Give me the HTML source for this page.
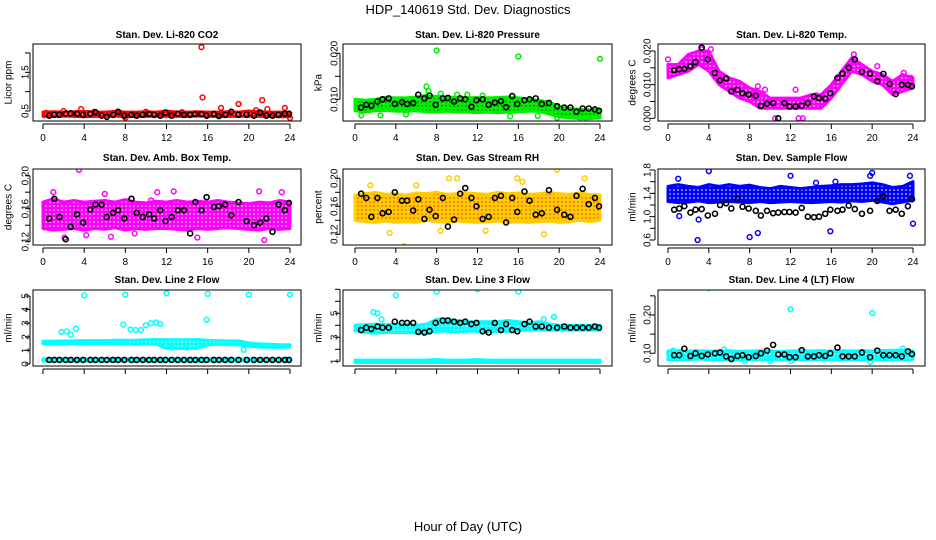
<!DOCTYPE html>
<html><head><meta charset="utf-8"><style>
body{margin:0;background:#fff;}
svg{display:block;font-family:"Liberation Sans",sans-serif;}
</style></head><body>
<svg id="c" width="936" height="540" viewBox="0 0 936 540" xmlns="http://www.w3.org/2000/svg">
<text x="468" y="14" text-anchor="middle" font-size="13">HDP_140619  Std. Dev. Diagnostics</text>
<text x="468" y="531" text-anchor="middle" font-size="13">Hour of Day (UTC)</text>
</svg>
<script>
const bandHours=[0,1,2,3,4,5,6,7,8,9,10,11,12,13,14,15,16,17,18,19,20,21,22,23,24];
const blackHours=[0.6,1.1,1.6,2.2,2.7,3.3,3.9,4.6,5.1,5.7,6.2,6.8,7.3,7.9,8.6,9.1,9.7,10.3,10.8,11.4,11.9,12.5,13.1,13.7,14.3,14.8,15.4,15.9,16.6,17.1,17.7,18.3,19.0,19.8,20.5,21.1,21.7,22.3,22.9,23.5,23.9];
const xTicks=[0,4,8,12,16,20,24];

// Panel 1 CO2
const co2Lo=[0.36,0.36,0.37,0.36,0.35,0.36,0.36,0.37,0.35,0.36,0.36,0.37,0.36,0.36,0.36,0.37,0.36,0.36,0.36,0.36,0.37,0.36,0.36,0.35,0.35];
const co2Hi=[0.47,0.48,0.47,0.48,0.49,0.47,0.47,0.49,0.47,0.47,0.48,0.47,0.5,0.47,0.47,0.48,0.47,0.47,0.48,0.47,0.5,0.48,0.47,0.47,0.46];
const co2PtX=[3.7,15.4,15.5,17.3,19.0,21.3,21.8,23.5,24.0,8.0,0.3,2.0,5.0,10.0,13.5,20.7];
const co2PtY=[0.55,2.15,0.85,0.58,0.68,0.78,0.55,0.58,0.32,0.33,0.45,0.5,0.48,0.48,0.47,0.52];
const co2Black=[0.38,0.4,0.4,0.43,0.44,0.43,0.4,0.43,0.47,0.38,0.35,0.4,0.48,0.38,0.4,0.38,0.4,0.42,0.4,0.38,0.46,0.38,0.43,0.4,0.4,0.42,0.42,0.38,0.42,0.37,0.4,0.48,0.4,0.4,0.38,0.46,0.38,0.38,0.4,0.43,0.43];
// Panel 2 Pressure
const presLo=[0.0075,0.0072,0.0075,0.0076,0.0074,0.0074,0.0075,0.0073,0.0072,0.0074,0.0072,0.0072,0.0071,0.0072,0.0071,0.0072,0.0073,0.0074,0.0074,0.0068,0.0062,0.0060,0.0058,0.0058,0.0060];
const presHi=[0.0100,0.0098,0.0100,0.0104,0.0103,0.0103,0.0105,0.0108,0.0106,0.0105,0.0104,0.0103,0.0104,0.0103,0.0104,0.0105,0.0103,0.0100,0.0098,0.0094,0.0085,0.0080,0.0078,0.0077,0.0078];
const presPtX=[8,16,24,7.0,7.2,8.4,10,11,15.2,17.9,0.6,2.5,5,12.5,19.8,22.3];
const presPtY=[0.0206,0.0193,0.0188,0.0128,0.0118,0.0112,0.0110,0.0110,0.0063,0.0064,0.0065,0.0065,0.0067,0.0108,0.0060,0.0055];
const presBlack=[0.0082,0.0088,0.0086,0.0095,0.0100,0.0102,0.0090,0.0094,0.0090,0.0092,0.0110,0.0102,0.0108,0.0088,0.0102,0.0103,0.0095,0.0102,0.0100,0.0084,0.0098,0.0100,0.0088,0.0093,0.0096,0.0083,0.0107,0.0090,0.0098,0.0100,0.0102,0.0090,0.0092,0.0085,0.0082,0.0082,0.0073,0.0080,0.0080,0.0078,0.0075];
// Panel 3 Temp
const tempLo=[0.012,0.013,0.014,0.016,0.014,0.010,0.008,0.006,0.005,0.003,0.003,0.003,0.003,0.003,0.003,0.003,0.006,0.010,0.014,0.013,0.011,0.010,0.007,0.008,0.009];
const tempHi=[0.016,0.016,0.019,0.020,0.020,0.014,0.012,0.011,0.009,0.008,0.006,0.006,0.006,0.006,0.007,0.007,0.010,0.014,0.018,0.016,0.014,0.013,0.011,0.013,0.012];
const tempPtX=[0,3.3,4.2,10.5,12.8,13.2,12.5,8.8,9.5,14.5,18.2,20.5,23.1,23.8];
const tempPtY=[0.0175,0.0205,0.0205,0.000,0.000,0.000,0.0085,0.0095,0.0085,0.0068,0.019,0.0155,0.0135,0.012];
const tempBlack=[0.0143,0.0146,0.0147,0.0155,0.0167,0.0210,0.0175,0.0135,0.0113,0.0118,0.0080,0.0085,0.0075,0.0070,0.0067,0.0037,0.0043,0.0045,0.0000,0.0045,0.0035,0.0035,0.0038,0.0045,0.0065,0.0060,0.0058,0.0075,0.0120,0.0133,0.0150,0.0175,0.0138,0.0133,0.0110,0.0132,0.0102,0.0072,0.0100,0.0100,0.0095];
// Panel 4 Amb box temp
const ambLo=[0.136,0.134,0.135,0.136,0.134,0.136,0.135,0.137,0.134,0.136,0.135,0.136,0.136,0.135,0.134,0.136,0.135,0.136,0.137,0.136,0.135,0.134,0.136,0.135,0.136];
const ambHi=[0.168,0.172,0.168,0.17,0.168,0.169,0.17,0.168,0.171,0.168,0.167,0.169,0.168,0.17,0.168,0.169,0.168,0.17,0.168,0.167,0.166,0.168,0.167,0.17,0.168];
const ambPtX=[3.5,1.0,2.1,4.2,6.6,8.9,11.1,12.7,21.0,21.5,23.2,15.0,6.0,10.5];
const ambPtY=[0.207,0.18,0.125,0.128,0.126,0.13,0.18,0.181,0.181,0.122,0.18,0.125,0.178,0.17];
const ambBlack=[0.148,0.172,0.15,0.123,0.138,0.153,0.143,0.159,0.165,0.165,0.15,0.155,0.158,0.148,0.172,0.155,0.15,0.153,0.148,0.158,0.145,0.15,0.158,0.158,0.13,0.168,0.158,0.174,0.162,0.163,0.165,0.152,0.168,0.145,0.14,0.143,0.148,0.132,0.165,0.158,0.167];
// Panel 5 Gas stream RH
const rhLo=[0.14,0.138,0.137,0.139,0.137,0.138,0.137,0.14,0.138,0.137,0.139,0.138,0.137,0.138,0.139,0.137,0.138,0.137,0.138,0.139,0.137,0.138,0.14,0.138,0.14];
const rhHi=[0.176,0.178,0.18,0.177,0.178,0.176,0.179,0.178,0.18,0.177,0.178,0.179,0.178,0.177,0.18,0.178,0.179,0.177,0.178,0.18,0.178,0.177,0.179,0.177,0.176];
const rhPtX=[4.8,3.4,8.4,10.0,12.8,19.8,15.9,16.4,22.5,1.5,6.0,18.5,9.2];
const rhPtY=[0.103,0.122,0.125,0.2,0.125,0.212,0.2,0.195,0.2,0.19,0.19,0.12,0.2];
const rhBlack=[0.178,0.172,0.145,0.172,0.15,0.152,0.18,0.168,0.168,0.154,0.17,0.142,0.155,0.146,0.172,0.131,0.141,0.178,0.186,0.172,0.16,0.142,0.145,0.172,0.175,0.137,0.172,0.152,0.181,0.168,0.148,0.15,0.183,0.155,0.148,0.145,0.175,0.185,0.163,0.172,0.16];
// Panel 6 Sample flow
const sfLo=[1.26,1.24,1.25,1.27,1.24,1.25,1.26,1.25,1.24,1.26,1.24,1.25,1.26,1.25,1.24,1.25,1.26,1.25,1.27,1.26,1.28,1.25,1.22,1.25,1.28];
const sfHi=[1.52,1.55,1.52,1.5,1.55,1.52,1.55,1.52,1.54,1.5,1.48,1.52,1.5,1.48,1.5,1.52,1.53,1.55,1.55,1.56,1.58,1.55,1.5,1.52,1.6];
const sfPtX=[4.0,2.9,3.0,8.0,8.8,15.9,24.0,1.0,1.1,19.8,20.0,12.0,23.7,16.4,14.5];
const sfPtY=[1.78,0.6,0.95,0.65,0.72,0.75,0.88,1.65,1.01,1.7,1.75,1.7,1.7,1.6,1.58];
const sfBlack=[1.12,1.14,1.18,1.07,1.12,1.13,1.02,1.05,1.2,1.23,1.14,1.3,1.17,1.14,1.1,1.02,1.1,1.06,1.07,1.08,1.08,1.07,1.15,1.0,0.99,1.0,1.05,1.12,1.1,1.12,1.19,1.13,1.05,1.1,1.27,1.35,1.1,1.12,1.05,1.18,1.3];
// Panel 7 Line 2 flow
const l2Lo=[1.5,1.48,1.5,1.5,1.5,1.52,1.5,1.52,1.5,1.45,1.5,1.45,1.15,1.15,1.15,1.15,1.4,1.45,1.42,1.4,1.3,1.25,1.22,1.22,1.25];
const l2Hi=[1.68,1.68,1.7,1.7,1.72,1.72,1.72,1.75,1.75,1.75,1.78,1.8,1.78,1.78,1.78,1.8,1.75,1.72,1.7,1.7,1.55,1.48,1.45,1.42,1.42];
const l2LoB=[0.22,0.22,0.22,0.22,0.22,0.22,0.22,0.22,0.22,0.22,0.22,0.22,0.22,0.22,0.22,0.22,0.22,0.22,0.22,0.22,0.22,0.22,0.22,0.22,0.22];
const l2HiB=[0.38,0.38,0.38,0.38,0.38,0.38,0.38,0.38,0.38,0.38,0.38,0.38,0.38,0.38,0.38,0.38,0.38,0.38,0.38,0.38,0.38,0.38,0.38,0.38,0.38];
const l2PtX=[4,8,12,16,20,24,1.8,2.3,2.7,3.2,7.8,8.5,9.0,9.5,10.0,10.5,11.0,11.4,15.9,19.5,12.5,14.0];
const l2PtY=[5.05,5.1,5.2,5.15,5.1,5.1,2.35,2.4,2.15,2.6,2.9,2.55,2.5,2.5,2.85,3.0,3.05,2.95,3.25,1.05,1.2,1.2];
const l2Black=[0.3,0.3,0.3,0.3,0.3,0.3,0.3,0.3,0.3,0.3,0.3,0.3,0.3,0.3,0.3,0.3,0.3,0.3,0.3,0.3,0.3,0.3,0.3,0.3,0.3,0.3,0.3,0.3,0.3,0.3,0.3,0.3,0.3,0.3,0.3,0.3,0.3,0.3,0.3,0.3,0.3];
// Panel 8 Line 3 flow
const l3Lo=[3.55,3.4,3.35,3.4,3.4,3.4,3.35,3.4,3.5,3.5,3.45,3.5,3.5,3.45,3.5,3.5,3.6,3.6,3.6,3.6,3.6,3.6,3.6,3.6,3.6];
const l3Hi=[4.0,4.05,4.1,4.05,4.1,4.1,4.0,4.1,4.5,4.5,4.4,4.3,4.3,4.3,4.3,4.4,4.3,4.2,4.3,4.1,4.0,4.0,4.0,4.0,4.0];
const l3LoB=[0.9,0.9,0.9,0.9,0.9,0.9,0.9,0.9,0.9,0.9,0.9,0.9,0.9,0.9,0.9,0.9,0.9,0.9,0.9,0.9,0.9,0.9,0.9,0.9,0.9];
const l3HiB=[1.1,1.1,1.1,1.1,1.1,1.1,1.1,1.1,1.15,1.1,1.1,1.1,1.15,1.1,1.1,1.1,1.1,1.1,1.1,1.1,1.1,1.1,1.1,1.1,1.1];
const l3PtX=[4,8,12,16,20,24,1.8,2.2,2.6,9.5,18.5,19.5];
const l3PtY=[6.5,6.8,7.0,6.8,7.2,7.5,5.1,5.0,4.5,4.3,4.5,4.7];
const l3Black=[3.6,3.8,3.7,3.9,3.8,3.8,4.3,4.2,4.2,4.2,3.45,3.4,3.5,4.2,4.4,4.4,4.3,4.2,4.3,4.1,4.2,3.5,3.4,4.2,3.6,4.1,3.6,3.5,4.1,4.3,3.9,3.9,3.8,3.8,3.9,3.8,3.8,3.8,3.8,3.9,3.8];
// Panel 9 Line 4 flow
const l4Lo=[0.083,0.084,0.083,0.085,0.083,0.084,0.083,0.082,0.084,0.083,0.084,0.083,0.083,0.084,0.083,0.084,0.083,0.084,0.083,0.084,0.083,0.084,0.083,0.083,0.084];
const l4Hi=[0.106,0.107,0.106,0.107,0.106,0.106,0.107,0.105,0.106,0.107,0.106,0.105,0.106,0.107,0.106,0.107,0.106,0.107,0.106,0.107,0.106,0.107,0.108,0.108,0.106];
const l4PtX=[4,12,20,0.5,5.5,7.5,10,12.1,19.8,23.0];
const l4PtY=[0.27,0.215,0.205,0.107,0.11,0.08,0.08,0.08,0.078,0.112];
const l4Black=[0.095,0.095,0.112,0.093,0.1,0.093,0.097,0.1,0.102,0.092,0.085,0.093,0.095,0.09,0.093,0.1,0.107,0.122,0.097,0.097,0.09,0.09,0.108,0.092,0.092,0.095,0.093,0.1,0.115,0.092,0.092,0.092,0.102,0.09,0.107,0.095,0.095,0.095,0.092,0.105,0.098];

const NS="http://www.w3.org/2000/svg";
const svg=document.getElementById('c');
function mk(tag,attrs,parent){const e=document.createElementNS(NS,tag);for(const k in attrs)e.setAttribute(k,attrs[k]);(parent||svg).appendChild(e);return e;}
const defs=mk('defs',{});

const cols=[{l:33,r:301,x0:43,x24:290,yl:25,yt:8},{l:343,r:612,x0:355,x24:600,yl:334,yt:318},{l:658,r:925,x0:668,x24:913,yl:647,yt:632}];
const rows=[{t:44,b:121,tt:38,lab:true},{t:169,b:245,tt:161,lab:true},{t:290,b:366,tt:283,lab:false}];

const panels=[
 {name:'co2',title:'Stan. Dev. Li-820 CO2',ylab:'Licor ppm',c:0,r:0,col:'#ff0000',dot:'#fff',v1:0.5,p1:111,v2:1.5,p2:72.3,ticks:[0.5,1,1.5,2],tl:['0.5','','1.5',''],lo:co2Lo,hi:co2Hi,px:co2PtX,py:co2PtY,bk:co2Black},
 {name:'pressure',title:'Stan. Dev. Li-820 Pressure',ylab:'kPa',c:1,r:0,col:'#00ee00',dot:'#006600',v1:0.01,p1:99.3,v2:0.02,p2:53.3,ticks:[0.01,0.015,0.02],tl:['0.010','','0.020'],lo:presLo,hi:presHi,px:presPtX,py:presPtY,bk:presBlack},
 {name:'temp',title:'Stan. Dev. Li-820 Temp.',ylab:'degrees C',c:2,r:0,col:'#ff00ff',dot:'#fff',v1:0,p1:118.3,v2:0.02,p2:51,ticks:[0,0.005,0.01,0.015,0.02],tl:['0.000','','0.010','','0.020'],lo:tempLo,hi:tempHi,px:tempPtX,py:tempPtY,bk:tempBlack},
 {name:'amb-box-temp',title:'Stan. Dev. Amb. Box Temp.',ylab:'degrees C',c:0,r:1,col:'#ff00ff',dot:'#fff',v1:0.12,p1:241.7,v2:0.2,p2:175.7,ticks:[0.12,0.14,0.16,0.18,0.2],tl:['0.12','','0.16','','0.20'],lo:ambLo,hi:ambHi,px:ambPtX,py:ambPtY,bk:ambBlack},
 {name:'gas-stream-rh',title:'Stan. Dev. Gas Stream RH',ylab:'percent',c:1,r:1,col:'#ffcc00',dot:'#ff3300',v1:0.12,p1:234.3,v2:0.2,p2:178.3,ticks:[0.12,0.14,0.16,0.18,0.2],tl:['0.12','','0.16','','0.20'],lo:rhLo,hi:rhHi,px:rhPtX,py:rhPtY,bk:rhBlack},
 {name:'sample-flow',title:'Stan. Dev. Sample Flow',ylab:'ml/min',c:2,r:1,col:'#0000ff',dot:'#fff',v1:0.6,p1:240,v2:1.8,p2:170,ticks:[0.6,0.8,1.0,1.2,1.4,1.6,1.8],tl:['0.6','','1.0','','1.4','','1.8'],lo:sfLo,hi:sfHi,px:sfPtX,py:sfPtY,bk:sfBlack},
 {name:'line2-flow',title:'Stan. Dev. Line 2 Flow',ylab:'ml/min',c:0,r:2,col:'#00ffff',dot:'#fff',v1:0,p1:364,v2:5,p2:296,ticks:[0,1,2,3,4,5],tl:['0','1','2','3','4','5'],lo:l2Lo,hi:l2Hi,lo2:l2LoB,hi2:l2HiB,px:l2PtX,py:l2PtY,bk:l2Black},
 {name:'line3-flow',title:'Stan. Dev. Line 3 Flow',ylab:'ml/min',c:1,r:2,col:'#00ffff',dot:'#fff',v1:1,p1:361.3,v2:5,p2:313.3,ticks:[1,2,3,4,5,6,7],tl:['1','','3','','5','',''],lo:l3Lo,hi:l3Hi,lo2:l3LoB,hi2:l3HiB,px:l3PtX,py:l3PtY,bk:l3Black},
 {name:'line4-flow',title:'Stan. Dev. Line 4 (LT) Flow',ylab:'ml/min',c:2,r:2,col:'#00ffff',dot:'#fff',v1:0.1,p1:353.3,v2:0.2,p2:315,ticks:[0.1,0.15,0.2,0.25],tl:['0.10','','0.20',''],lo:l4Lo,hi:l4Hi,px:l4PtX,py:l4PtY,bk:l4Black}
];

panels.forEach(P=>{
 const C=cols[P.c],R=rows[P.r];
 const X=h=>C.x0+(C.x24-C.x0)*h/24;
 const Y=v=>P.p1+(v-P.v1)*(P.p2-P.p1)/(P.v2-P.v1);
 const pid='pat-'+P.name;
 const pat=mk('pattern',{id:pid,width:4,height:4,patternUnits:'userSpaceOnUse'},defs);
 mk('rect',{width:4,height:4,fill:P.col},pat);
 mk('circle',{cx:2,cy:2,r:0.8,fill:P.dot},pat);
 const g=mk('g',{});
 
 
 const cp='clip-'+P.name;
 const cpe=mk('clipPath',{id:cp},g);
 mk('rect',{x:C.l,y:R.t,width:C.r-C.l,height:R.b-R.t},cpe);
 const data=mk('g',{'clip-path':'url(#'+cp+')'},g);
 function band(lo,hi,nm){
  let pts=bandHours.map((h,i)=>X(h)+','+Y(hi[i]));
  pts=pts.concat(bandHours.slice().reverse().map((h,j)=>{const i=bandHours.length-1-j;return X(h)+','+Y(lo[i]);}));
  const pg=mk('polygon',{points:pts.join(' '),fill:'url(#'+pid+')',stroke:P.col,'stroke-width':3,'stroke-linejoin':'round'},data);
  
  
 }
 band(P.lo,P.hi,P.name+'-cloud');
 if(P.lo2) band(P.lo2,P.hi2,P.name+'-cloud-lower');
 P.px.forEach((h,i)=>{
  const c=mk('circle',{cx:X(h),cy:Y(P.py[i]),r:2.4,fill:'none',stroke:P.col,'stroke-width':1.5},data);
  
  
 });
 blackHours.forEach((h,i)=>{
  const c=mk('circle',{cx:X(h),cy:Y(P.bk[i]),r:2.5,fill:'none',stroke:'#000','stroke-width':1.6},data);
  
  
 });
 const box=mk('rect',{x:C.l,y:R.t,width:C.r-C.l,height:R.b-R.t,fill:'none',stroke:'#000','stroke-width':1},g);
 
 
 const t=mk('text',{x:(C.l+C.r)/2,y:R.tt,'text-anchor':'middle','font-size':10,'font-weight':'bold'},g);
 t.textContent=P.title;
 
 
 const ay=R.b+3;
 mk('line',{x1:X(0),x2:X(24),y1:ay,y2:ay,stroke:'#000'},g);
 xTicks.forEach(h=>{
  mk('line',{x1:X(h),x2:X(h),y1:ay,y2:ay+5,stroke:'#000'},g);
  if(R.lab){const tx=mk('text',{x:X(h),y:ay+17,'text-anchor':'middle','font-size':10},g);tx.textContent=h;
   
   }
 });
 const ax=C.l-3;
 mk('line',{x1:ax,x2:ax,y1:Y(P.ticks[0]),y2:Y(P.ticks[P.ticks.length-1]),stroke:'#000'},g);
 P.ticks.forEach((v,i)=>{
  mk('line',{x1:ax-5,x2:ax,y1:Y(v),y2:Y(v),stroke:'#000'},g);
  if(P.tl[i]){const tx=mk('text',{x:C.yl,y:Y(v),'text-anchor':'middle','font-size':10,transform:'rotate(-90 '+C.yl+' '+Y(v)+')',dy:'0.35em'},g);tx.textContent=P.tl[i];
   
   }
 });
 const yt=mk('text',{x:C.yt,y:(R.t+R.b)/2,'text-anchor':'middle','font-size':10,transform:'rotate(-90 '+C.yt+' '+((R.t+R.b)/2)+')',dy:'0.35em'},g);
 yt.textContent=P.ylab;
 
 
});
</script>
</body></html>
